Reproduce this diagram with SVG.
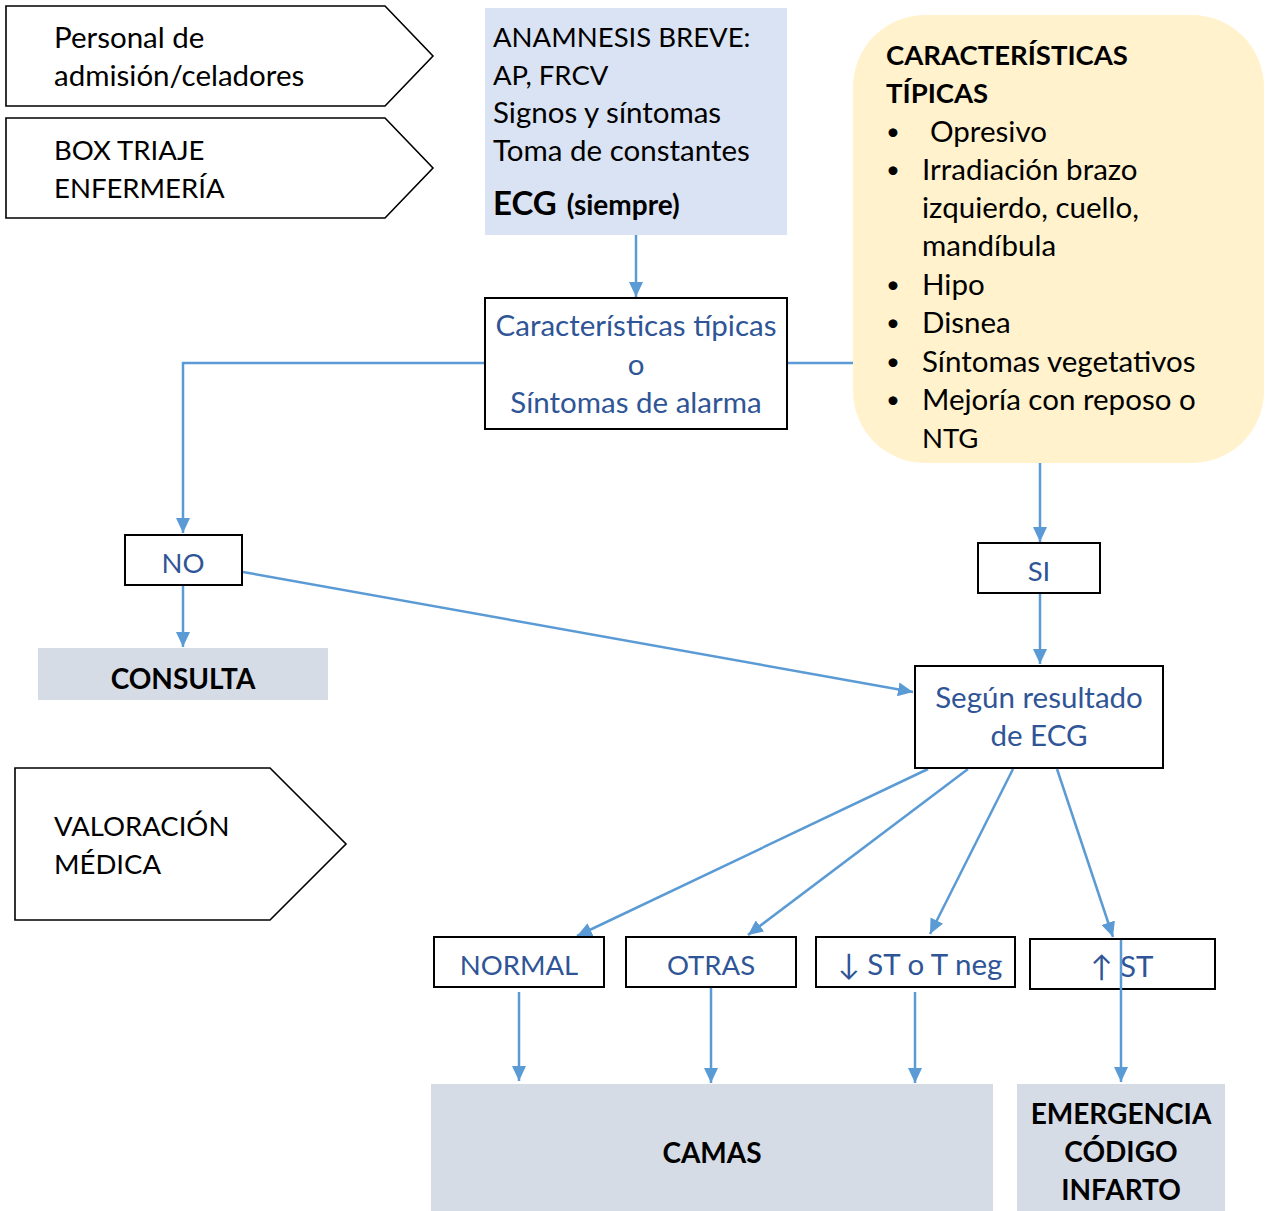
<svg xmlns="http://www.w3.org/2000/svg" width="1269" height="1211" viewBox="0 0 1269 1211">
  <defs>
    <marker id="arrow" markerUnits="userSpaceOnUse" markerWidth="16" markerHeight="14" refX="15" refY="7" orient="auto">
      <path d="M0,0 L15,7 L0,14 z" fill="#5B9BD5"/>
    </marker>
    <style>
      text { font-family: Lato, "Open Sans", "Liberation Sans", sans-serif; font-size: 29.5px; }
      .caps { font-size: 27.5px; }
      .dot { font-size: 24px; }
      .dark { fill: #000; }
      .blue { fill: #2F5597; }
      .bold { font-weight: bold; font-size: 28px; }
      .mid { text-anchor: middle; }
      .frame { fill: #fff; stroke: #000; stroke-width: 2; }
      .stage { fill: #fff; stroke: #000; stroke-width: 1.6; }
      .dest { fill: #D6DCE5; }
      .link { fill: none; stroke: #5B9BD5; stroke-width: 2.5; }
    </style>
  </defs>
  <rect width="1269" height="1211" fill="#fff"/>

  <!-- stage labels (chevrons) -->
  <g id="stage-admision">
    <path class="stage" d="M6,6 H385 L433,56 L385,106 H6 Z"/>
    <text class="dark" x="54" y="48">Personal de</text>
    <text class="dark" x="54" y="86">admisión/celadores</text>
  </g>
  <g id="stage-triaje">
    <path class="stage" d="M6,118 H385 L433,168 L385,218 H6 Z"/>
    <text class="dark caps" x="54" y="160">BOX TRIAJE</text>
    <text class="dark caps" x="54" y="198">ENFERMERÍA</text>
  </g>
  <g id="stage-valoracion">
    <path class="stage" d="M15,768 H270 L346,844 L270,920 H15 Z"/>
    <text class="dark caps" x="54" y="836">VALORACIÓN</text>
    <text class="dark caps" x="54" y="874">MÉDICA</text>
  </g>

  <!-- connectors -->
  <g id="connectors">
    <line class="link" x1="636" y1="235" x2="636" y2="297" marker-end="url(#arrow)"/>
    <polyline class="link" points="485,363 183,363 183,533" marker-end="url(#arrow)"/>
    <line class="link" x1="787" y1="363" x2="856" y2="363"/>
    <line class="link" x1="1040" y1="460" x2="1040" y2="542" marker-end="url(#arrow)"/>
    <line class="link" x1="1040" y1="594" x2="1040" y2="664" marker-end="url(#arrow)"/>
    <line class="link" x1="183" y1="586" x2="183" y2="647" marker-end="url(#arrow)"/>
    <line class="link" x1="243" y1="572" x2="913" y2="692" marker-end="url(#arrow)"/>
    <line class="link" x1="928" y1="769" x2="577" y2="936" marker-end="url(#arrow)"/>
    <line class="link" x1="968" y1="769" x2="748" y2="935" marker-end="url(#arrow)"/>
    <line class="link" x1="1013" y1="769" x2="930" y2="934" marker-end="url(#arrow)"/>
    <line class="link" x1="1057" y1="769" x2="1113" y2="937" marker-end="url(#arrow)"/>
    <line class="link" x1="519" y1="992" x2="519" y2="1081" marker-end="url(#arrow)"/>
    <line class="link" x1="711" y1="988" x2="711" y2="1083" marker-end="url(#arrow)"/>
    <line class="link" x1="915" y1="992" x2="915" y2="1083" marker-end="url(#arrow)"/>
  </g>

  <!-- triage data box -->
  <g id="anamnesis">
    <rect x="485" y="8" width="302" height="227" fill="#DAE3F3"/>
    <text class="dark caps" x="493" y="47">ANAMNESIS BREVE:</text>
    <text class="dark caps" x="493" y="85">AP, FRCV</text>
    <text class="dark" x="493" y="123">Signos y síntomas</text>
    <text class="dark" x="493" y="161">Toma de constantes</text>
    <text class="dark bold" x="493" y="215" style="font-size:33px">ECG <tspan dx="2" style="font-size:28px">(siempre)</tspan></text>
  </g>

  <!-- decision box -->
  <g id="caracteristicas">
    <rect class="frame" x="485" y="298" width="302" height="131"/>
    <text class="blue mid" x="636" y="336">Características típicas</text>
    <text class="blue mid" x="636" y="375">o</text>
    <text class="blue mid" x="636" y="413">Síntomas de alarma</text>
  </g>

  <!-- typical features note -->
  <g id="tipicas">
    <rect x="853" y="15" width="411" height="448" rx="72" ry="72" fill="#FFF2CC"/>
    <text class="dark bold" x="886" y="65" style="font-size:27.5px">CARACTERÍSTICAS</text>
    <text class="dark bold" x="886" y="103" style="font-size:27.5px">TÍPICAS</text>
    <g class="dark">
      <text class="dot" x="886" y="140">•</text><text x="930" y="142">Opresivo</text>
      <text class="dot" x="886" y="178">•</text><text x="922" y="180">Irradiación brazo</text>
      <text x="922" y="218">izquierdo, cuello,</text>
      <text x="922" y="256">mandíbula</text>
      <text class="dot" x="886" y="293">•</text><text x="922" y="295">Hipo</text>
      <text class="dot" x="886" y="331">•</text><text x="922" y="333">Disnea</text>
      <text class="dot" x="886" y="370">•</text><text x="922" y="372">Síntomas vegetativos</text>
      <text class="dot" x="886" y="408">•</text><text x="922" y="410">Mejoría con reposo o</text>
      <text class="caps" x="922" y="448">NTG</text>
    </g>
  </g>

  <g id="no">
    <rect class="frame" x="125" y="535" width="117" height="50"/>
    <text class="blue mid caps" x="183" y="573">NO</text>
  </g>
  <g id="si">
    <rect class="frame" x="978" y="543" width="122" height="50"/>
    <text class="blue mid caps" x="1039" y="581">SI</text>
  </g>
  <g id="consulta">
    <rect class="dest" x="38" y="648" width="290" height="52"/>
    <text class="dark bold mid" x="183" y="689">CONSULTA</text>
  </g>
  <g id="segun-ecg">
    <rect class="frame" x="915" y="666" width="248" height="102"/>
    <text class="blue mid" x="1039" y="708">Según resultado</text>
    <text class="blue mid" x="1039" y="746">de ECG</text>
  </g>

  <!-- ECG outcomes -->
  <g id="normal">
    <rect class="frame" x="434" y="937" width="170" height="50"/>
    <text class="blue mid caps" x="519" y="975">NORMAL</text>
  </g>
  <g id="otras">
    <rect class="frame" x="626" y="937" width="170" height="50"/>
    <text class="blue mid caps" x="711" y="975">OTRAS</text>
  </g>
  <g id="st-descenso">
    <rect class="frame" x="816" y="937" width="199" height="50"/>
    <text class="blue mid" x="920" y="975">↓ ST o T neg</text>
  </g>
  <g id="st-elevacion">
    <rect class="frame" x="1030" y="939" width="185" height="50"/>
    <text class="blue mid" x="1122" y="977">↑ ST</text>
  </g>
  <!-- the ↑ST link runs straight through its box -->
  <line class="link" x1="1121" y1="940" x2="1121" y2="1082" marker-end="url(#arrow)"/>

  <!-- destinations -->
  <g id="camas">
    <rect class="dest" x="431" y="1084" width="562" height="127"/>
    <text class="dark bold mid" x="712" y="1163">CAMAS</text>
  </g>
  <g id="codigo-infarto">
    <rect class="dest" x="1017" y="1084" width="208" height="127"/>
    <text class="dark bold mid" x="1121" y="1124">EMERGENCIA</text>
    <text class="dark bold mid" x="1121" y="1162">CÓDIGO</text>
    <text class="dark bold mid" x="1121" y="1200">INFARTO</text>
  </g>
</svg>
